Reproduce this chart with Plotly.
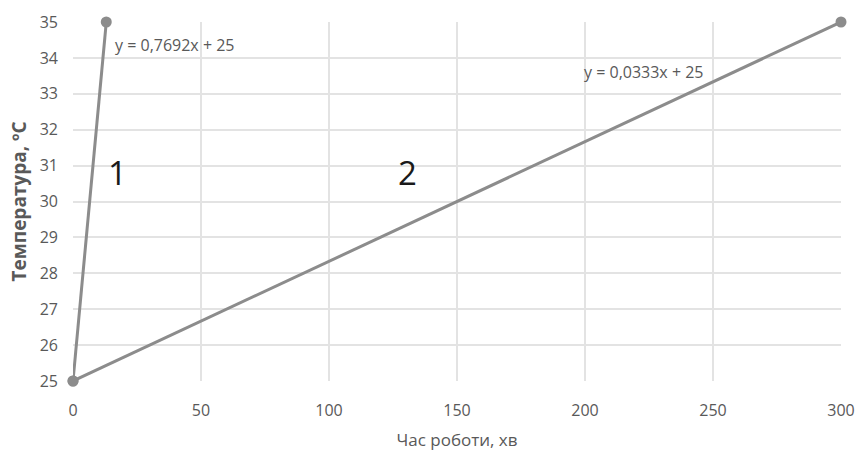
import plotly.graph_objects as go

# Heating curves: temperature vs working time
time_1 = [0, 13]
temp_1 = [25, 35]
time_2 = [0, 300]
temp_2 = [25, 35]

eq_1 = "y = 0,7692x + 25"
eq_2 = "y = 0,0333x + 25"

x_ticks = [0, 50, 100, 150, 200, 250, 300]
y_ticks = list(range(25, 36))

line_color = "#8c8c8c"
text_color = "#595959"
font_fam = "Open Sans, sans-serif"

fig = go.Figure()
for xs, ys in [(time_1, temp_1), (time_2, temp_2)]:
    fig.add_trace(go.Scatter(
        x=xs, y=ys, mode="lines+markers",
        line=dict(color=line_color, width=3),
        marker=dict(color=line_color, size=11),
        cliponaxis=False, showlegend=False,
    ))

# Equation labels
fig.add_annotation(x=15.5, y=34.37, text=eq_1, showarrow=False, xanchor="left",
                   font=dict(family=font_fam, size=16, color=text_color))
fig.add_annotation(x=199, y=33.62, text=eq_2, showarrow=False, xanchor="left",
                   font=dict(family=font_fam, size=16, color=text_color))
# Curve numbers
fig.add_annotation(x=17.5, y=30.8, text="1", showarrow=False,
                   font=dict(family=font_fam, size=33, color="#1a1a1a"))
fig.add_annotation(x=130.5, y=30.8, text="2", showarrow=False,
                   font=dict(family=font_fam, size=33, color="#1a1a1a"))

fig.update_layout(
    width=857, height=457,
    margin=dict(l=73, r=16, t=22, b=76),
    plot_bgcolor="white", paper_bgcolor="white",
    font=dict(family=font_fam, color=text_color, size=16),
    xaxis=dict(
        range=[0, 300], tickvals=x_ticks, showgrid=True, gridcolor="#e3e3e3",
        gridwidth=1.5, zeroline=False, showline=False, ticks="",
        automargin=False, ticklabelstandoff=18,
        tickfont=dict(size=16, color=text_color),
        title=dict(text="Час роботи, хв", font=dict(size=17, color=text_color), standoff=14),
    ),
    yaxis=dict(
        range=[25, 35], tickvals=y_ticks, showgrid=True, gridcolor="#e3e3e3",
        gridwidth=1.5, zeroline=False, showline=False, ticks="",
        automargin=False, ticklabelstandoff=14,
        tickfont=dict(size=16, color=text_color),
        title=dict(text="<b>Температура, ºС</b>", font=dict(size=19, color=text_color), standoff=8),
    ),
)

fig.write_html("out.html")
